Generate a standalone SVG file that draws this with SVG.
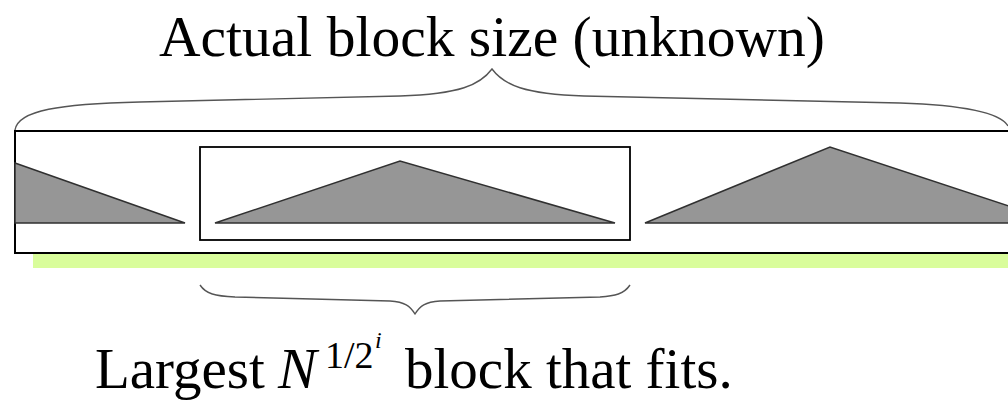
<svg xmlns="http://www.w3.org/2000/svg" width="1008" height="401" viewBox="0 0 1008 401">
<style>
.lbl{font-family:"Liberation Serif","Times New Roman",serif;fill:#000}
.tri{fill:#969696;stroke:#303030;stroke-width:1.5;stroke-linejoin:miter}
.box{fill:none;stroke:#000;stroke-width:2}
.brace{fill:none;stroke:#555;stroke-width:1.4}
</style>
<rect width="1008" height="401" fill="#fff"/>
<g id="green-strip"><rect x="33" y="254" width="980" height="14" fill="#d9fd9b"/></g>
<g id="outer-block"><rect class="box" x="15" y="131" width="1010" height="122"/></g>
<g id="left-triangle"><polygon class="tri" points="15,163 185,223 15,223"/></g>
<g id="inner-block">
<rect class="box" x="200" y="147" width="430" height="93" style="stroke-width:1.8"/>
<polygon class="tri" points="215,223 400,161 615,223"/>
</g>
<g id="right-triangle"><polygon class="tri" points="645,223 830,147 1060,223 1012,223"/></g>
<g id="connectors">
<path class="brace" d="M15,130 C18,110 60,104 140,102 L400,96 C460,94 480,85 492,69 C504,85 524,94 584,96 L900,103 C960,105 1000,112 1008,126"/>
<path class="brace" d="M200,285 C206,294 215,296 235,297 L390,301 C405,302 410,306 415,314 C420,306 425,302 440,301 L600,297 C615,296 624,294 630,285"/>
</g>
<g id="top-label"><text class="lbl" x="492" y="56" font-size="57.5" text-anchor="middle">Actual block size (unknown)</text></g>
<g id="bottom-label">
<text class="lbl" x="95" y="388" font-size="57">Largest</text>
<text class="lbl" x="278" y="388" font-size="58" font-style="italic">N</text>
<text class="lbl" x="325" y="368" font-size="38">1/2</text>
<text class="lbl" x="375" y="348" font-size="24" font-style="italic">i</text>
<text class="lbl" x="405" y="388" font-size="57">block that fits.</text>
</g>
</svg>
